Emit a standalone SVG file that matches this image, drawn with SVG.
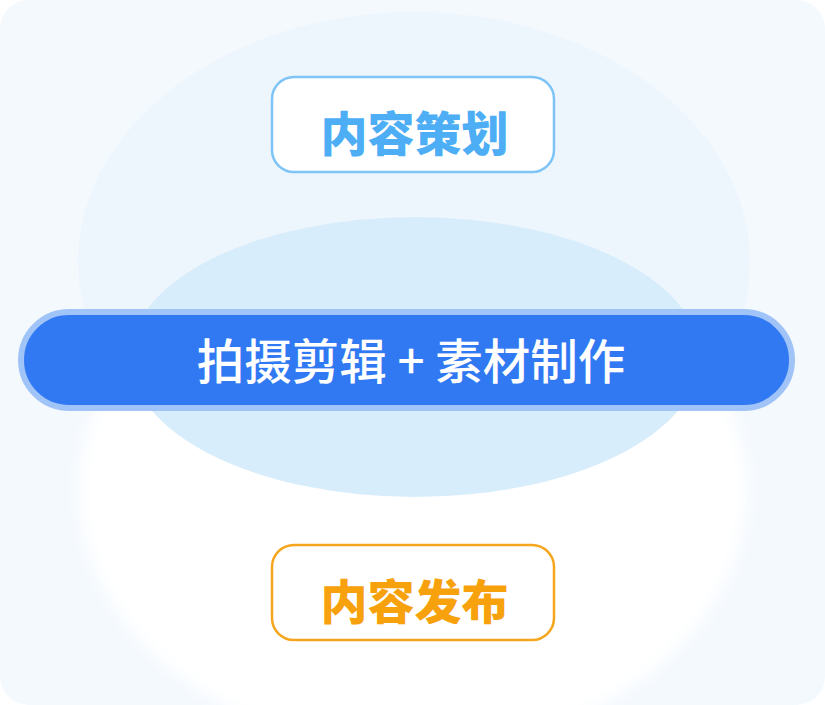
<svg xmlns="http://www.w3.org/2000/svg" width="825" height="705" viewBox="0 0 825 705">
  <defs>
    <filter id="soft" x="-10%" y="-10%" width="120%" height="120%">
      <feGaussianBlur stdDeviation="8"/>
    </filter>
    <clipPath id="card">
      <rect x="0" y="0" width="825" height="705" rx="28"/>
    </clipPath>
  </defs>
  <style>
    .box { fill: #ffffff; stroke-width: 2.5; }
    .lbl { font-family: "Noto Sans CJK SC", "Noto Sans", sans-serif; text-anchor: middle; }
    .bold { font-weight: 900; font-size: 47px; }
  </style>
  <g id="background" clip-path="url(#card)">
    <rect x="0" y="0" width="825" height="705" rx="28" fill="#f4f9fe"/>
    <ellipse cx="414" cy="262" rx="336" ry="250" fill="#eef6fd"/>
    <ellipse cx="413" cy="490" rx="334" ry="260" fill="#ffffff" filter="url(#soft)"/>
    <ellipse cx="415" cy="357" rx="285" ry="140" fill="#d8edfb"/>
  </g>
  <g id="connectors"></g>
  <g id="node-plan">
    <rect class="box" x="272" y="77" width="282" height="95" rx="22" stroke="#7ec4f7"/>
    <text class="lbl bold" x="414.5" y="151" fill="#4daef6">内容策划</text>
  </g>
  <g id="node-production">
    <rect x="21" y="312" width="771" height="96" rx="48" fill="#3179f2" stroke="#a1c4f8" stroke-width="6"/>
    <text class="lbl" x="411" y="379" fill="#ffffff" font-size="47.5" font-weight="500" xml:space="preserve">拍摄剪辑 + 素材制作</text>
  </g>
  <g id="node-publish">
    <rect class="box" x="272" y="545" width="282" height="95" rx="22" stroke="#f5a61e"/>
    <text class="lbl bold" x="414.5" y="619" fill="#f7a10c">内容发布</text>
  </g>
</svg>
